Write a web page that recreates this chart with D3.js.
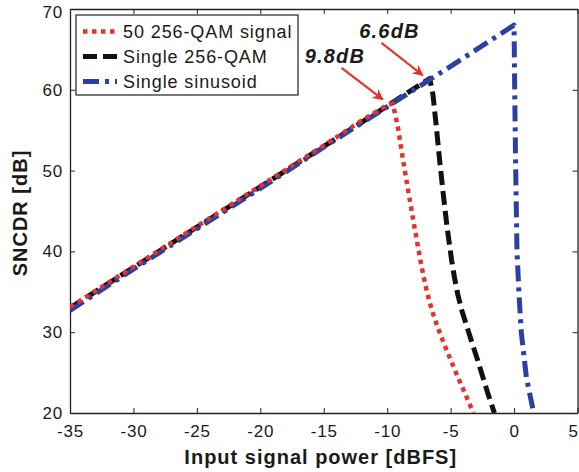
<!DOCTYPE html>
<html>
<head>
<meta charset="utf-8">
<script src="https://cdn.jsdelivr.net/npm/d3@7"></script>
<style>
  body { margin: 0; background: #fff; }
  text { font-family: "Liberation Sans", Arial, sans-serif; fill: #1a1a1a; }
</style>
</head>
<body>
<div id="chart"></div>
<script>
// input power [dBFS] and SNCDR [dB]
var redX = [-35, -30, -25, -20, -15, -12, -10, -9.6, -9.4, -9.15, -8.74, -8.3, -7.85, -7.38, -7.12, -6.82, -6.45, -6.02, -5.5, -4.98, -4.42, -3.86, -3.2];
var redY = [33.1, 38.1, 43.1, 48.1, 53.1, 56.2, 58.1, 58.3, 57.2, 55.3, 51.2, 47.1, 43.0, 38.9, 36.8, 34.7, 32.6, 30.6, 28.5, 26.5, 24.4, 22.4, 20.0];

var blackX = [-35, -30, -25, -20, -15, -10, -6.65, -6.39, -6.12, -5.86, -5.58, -5.28, -4.92, -4.7, -4.44, -4.1, -3.7, -3.28, -2.86, -2.45, -2.06, -1.55];
var blackY = [33.0, 38.0, 43.0, 48.0, 53.0, 58.0, 61.4, 59.4, 55.3, 51.2, 47.1, 43.0, 38.9, 36.8, 34.7, 32.6, 30.6, 28.5, 26.5, 24.4, 22.4, 20.0];

var blueX = [-35, -30, -25, -20, -15, -10, -5, 0, 0.05, 0.13, 0.23, 0.39, 0.57, 0.97, 1.55];
var blueY = [32.7, 37.8, 42.8, 47.8, 52.9, 57.9, 62.9, 68.0, 60.0, 50.0, 40.1, 34.7, 30.0, 24.4, 20.0];

var seriesNames = ["50 256-QAM signal", "Single 256-QAM", "Single sinusoid"];
var xTicks = [-35, -30, -25, -20, -15, -10, -5, 0, 5];
var yTicks = [20, 30, 40, 50, 60, 70];

// annotation arrows: label, text anchor, arrow tail, arrow tip (data units)
var notes = [
  { label: "9.8dB", tx: -16.5, ty: 63.3, x1: -13.6, y1: 62.7, x2: -10.35, y2: 58.8 },
  { label: "6.6dB", tx: -12.2, ty: 66.4, x1: -10.45, y1: 65.8, x2: -7.2, y2: 61.8 }
];

var width = 579, height = 472;
var margin = { top: 9, right: 1.5, bottom: 59, left: 70 };

var RED = "#e5322b", BLACK = "#111111", BLUE = "#2c40a3";

var styles = [
  { color: RED, width: 4.5, dash: "4.5,4.5" },
  { color: BLACK, width: 5, dash: "14,6" },
  { color: BLUE, width: 5, dash: "16,6,4,6" }
];

var svg = d3.select("#chart").append("svg")
  .attr("width", width)
  .attr("height", height);

var x = d3.scaleLinear().domain([-35, 5]).range([margin.left, width - margin.right]);
var y = d3.scaleLinear().domain([20, 70]).range([height - margin.bottom, margin.top]);

var defs = svg.append("defs");
defs.append("clipPath").attr("id", "clip")
  .append("rect")
  .attr("x", x(-35)).attr("y", y(70))
  .attr("width", x(5) - x(-35)).attr("height", y(20) - y(70));

defs.append("marker")
  .attr("id", "arrow")
  .attr("viewBox", "0 0 10 10")
  .attr("refX", 9).attr("refY", 5)
  .attr("markerWidth", 5).attr("markerHeight", 5)
  .attr("markerUnits", "strokeWidth")
  .attr("orient", "auto")
  .append("path")
  .attr("d", "M0,0 L10,5 L0,10 L3,5 Z")
  .attr("fill", RED);

// plain hyphen labels, like the original
var fmt = function(d) { return String(d); };

// axes, ticks inside like MATLAB
function styleAxis(g) {
  g.select(".domain").attr("stroke", "#222").attr("stroke-width", 1.3);
  g.selectAll(".tick line").attr("stroke", "#222").attr("stroke-width", 1);
  g.selectAll(".tick text")
    .style("font-size", "17px")
    .style("letter-spacing", "0.8px")
    .attr("fill", "#1a1a1a");
}

var xAxis = svg.append("g")
  .attr("transform", "translate(0," + y(20) + ")")
  .call(d3.axisBottom(x).tickValues(xTicks).tickFormat(fmt).tickSizeInner(-5).tickSizeOuter(0).tickPadding(12))
  .call(styleAxis);
// last label sits on the page edge; keep it inside
xAxis.selectAll(".tick text").filter(function(d) { return d === 5; })
  .attr("text-anchor", "end").attr("x", 0).style("letter-spacing", "0px");

svg.append("g")
  .attr("transform", "translate(0," + y(70) + ")")
  .call(d3.axisTop(x).tickValues(xTicks).tickSizeInner(-5).tickSizeOuter(0).tickFormat(""))
  .call(styleAxis);

var yAxis = svg.append("g")
  .attr("transform", "translate(" + x(-35) + ",0)")
  .call(d3.axisLeft(y).tickValues(yTicks).tickFormat(fmt).tickSizeInner(-5).tickSizeOuter(0).tickPadding(7))
  .call(styleAxis);
yAxis.selectAll(".tick text").filter(function(d) { return d === 70; })
  .attr("y", 3);

svg.append("g")
  .attr("transform", "translate(" + x(5) + ",0)")
  .call(d3.axisRight(y).tickValues(yTicks).tickSizeInner(-5).tickSizeOuter(0).tickFormat(""))
  .call(styleAxis);

// axis titles
svg.append("text")
  .attr("x", (x(-35) + x(5)) / 2 - 3)
  .attr("y", 464)
  .attr("text-anchor", "middle")
  .style("font-size", "20px")
  .style("font-weight", "bold")
  .style("letter-spacing", "1px")
  .text("Input signal power [dBFS]");

svg.append("text")
  .attr("transform", "translate(27," + 213 + ") rotate(-90)")
  .attr("text-anchor", "middle")
  .style("font-size", "20px")
  .style("font-weight", "bold")
  .style("letter-spacing", "1px")
  .text("SNCDR [dB]");

// curves
var line = d3.line()
  .x(function(d) { return x(d[0]); })
  .y(function(d) { return y(d[1]); });

function pairs(xs, ys) {
  return xs.map(function(v, i) { return [v, ys[i]]; });
}

var series = [pairs(redX, redY), pairs(blackX, blackY), pairs(blueX, blueY)];
var drawOrder = [1, 2, 0];

var plot = svg.append("g").attr("clip-path", "url(#clip)");
drawOrder.forEach(function(i) {
  plot.append("path")
    .datum(series[i])
    .attr("d", line)
    .attr("fill", "none")
    .attr("stroke", styles[i].color)
    .attr("stroke-width", styles[i].width)
    .attr("stroke-dasharray", styles[i].dash)
    .attr("stroke-linejoin", "round");
});

// annotations
notes.forEach(function(n) {
  svg.append("line")
    .attr("x1", x(n.x1)).attr("y1", y(n.y1))
    .attr("x2", x(n.x2)).attr("y2", y(n.y2))
    .attr("stroke", RED)
    .attr("stroke-width", 2.2)
    .attr("marker-end", "url(#arrow)");
  svg.append("text")
    .attr("x", x(n.tx))
    .attr("y", y(n.ty))
    .style("font-size", "20px")
    .style("font-weight", "bold")
    .style("font-style", "italic")
    .style("letter-spacing", "1.2px")
    .attr("fill", "#111")
    .text(n.label);
});

// legend
var legend = svg.append("g").attr("transform", "translate(76,15)");
legend.append("rect")
  .attr("width", 222)
  .attr("height", 80)
  .attr("fill", "#fff")
  .attr("stroke", "#222")
  .attr("stroke-width", 1.2);

seriesNames.forEach(function(name, i) {
  var yy = 16.5 + i * 25;
  legend.append("line")
    .attr("x1", 7).attr("x2", 41)
    .attr("y1", yy).attr("y2", yy)
    .attr("stroke", styles[i].color)
    .attr("stroke-width", styles[i].width)
    .attr("stroke-dasharray", styles[i].dash);
  legend.append("text")
    .attr("x", 47)
    .attr("y", yy)
    .attr("dy", "0.36em")
    .style("font-size", "18px")
    .style("letter-spacing", "0.9px")
    .text(name);
});
</script>
</body>
</html>
